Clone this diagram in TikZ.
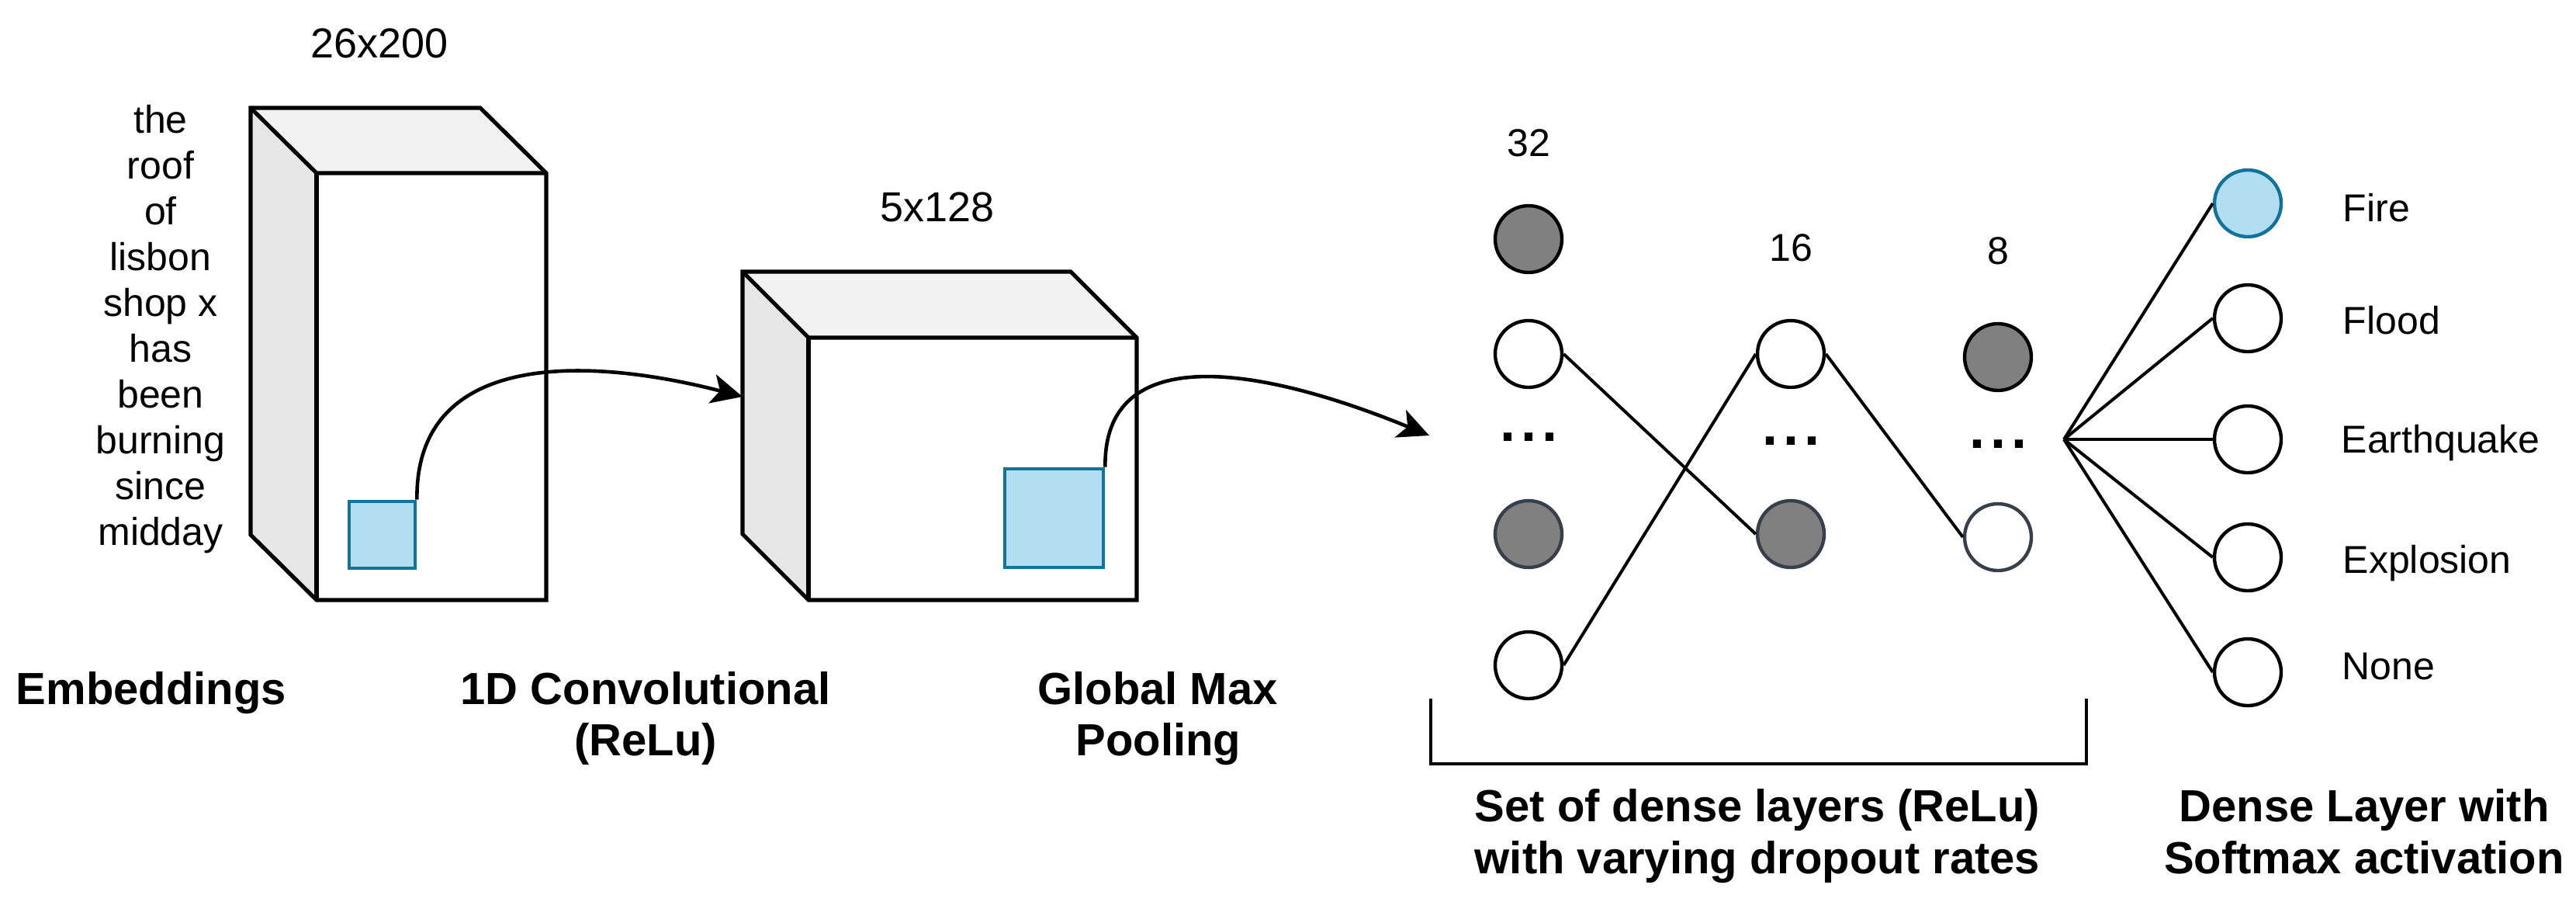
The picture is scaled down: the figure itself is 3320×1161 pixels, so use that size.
\documentclass[tikz,border=0pt]{standalone}
\usepackage{fontspec}
\setmainfont{Liberation Sans}
\usetikzlibrary{arrows.meta}
\definecolor{bluefill}{HTML}{B1DDF0}
\definecolor{bluedraw}{HTML}{10739E}
\definecolor{grayfill}{HTML}{808080}
\definecolor{slate}{HTML}{36404A}
\definecolor{sideface}{HTML}{E6E6E6}
\definecolor{topface}{HTML}{F2F2F2}
\begin{document}
\begin{tikzpicture}[x=0.25pt,y=-0.25pt,
  txt/.style={font=\fontsize{12.5}{15}\selectfont, inner sep=0, anchor=base},
  dimtxt/.style={font=\fontsize{13.5}{16}\selectfont, inner sep=0, anchor=base},
  lbl/.style={font=\fontsize{14.5}{17}\selectfont\bfseries, inner sep=0, anchor=base},
  dotstxt/.style={font=\fontsize{18}{18}\selectfont\bfseries, inner sep=0, anchor=base},
  cubeline/.style={line width=1.3pt, line join=miter},
  bluesq/.style={draw=bluedraw, fill=bluefill, line width=1.2pt, inner sep=0},
  neuron/.style={circle, draw, line width=1.1pt, minimum size=21.5pt, inner sep=0, fill=white},
  dropn/.style={neuron, fill=grayfill},
  dropns/.style={neuron, fill=grayfill, draw=slate},
  whites/.style={neuron, draw=slate},
  outn/.style={neuron},
  firen/.style={neuron, fill=bluefill, draw=bluedraw},
  conn/.style={line width=1pt},
  flow/.style={line width=1.15pt, -{Stealth[length=10pt,width=9.5pt,inset=2.5pt]}},
]
\useasboundingbox (0,0) rectangle (3320,1161);

% ---------- cube 1 (embeddings) ----------
\fill[sideface] (323,139) -- (408,223) -- (408,773) -- (323,689) -- cycle;
\fill[topface] (323,139) -- (619,139) -- (704,223) -- (408,223) -- cycle;
\draw[cubeline] (323,139) -- (619,139) -- (704,223) -- (704,773) -- (408,773) -- (323,689) -- cycle;
\draw[cubeline] (323,139) -- (408,223) -- (704,223);
\draw[cubeline] (408,223) -- (408,773);

% ---------- cube 2 (convolution) ----------
\fill[sideface] (957,350) -- (1042,435) -- (1042,773) -- (957,688) -- cycle;
\fill[topface] (957,350) -- (1380,350) -- (1465,435) -- (1042,435) -- cycle;
\draw[cubeline] (957,350) -- (1380,350) -- (1465,435) -- (1465,773) -- (1042,773) -- (957,688) -- cycle;
\draw[cubeline] (957,350) -- (1042,435) -- (1465,435);
\draw[cubeline] (1042,435) -- (1042,773);

% ---------- blue kernels ----------
\node[bluesq, minimum width=21.25pt, minimum height=21.5pt] (b1) at (492.5,689) {};
\node[bluesq, minimum width=31.75pt, minimum height=31.75pt] (b2) at (1358.5,667.5) {};

% ---------- dimension labels ----------
\node[dimtxt] (d1) at (489,74) {26x200};
\node[dimtxt] (d2) at (1208,285) {5x128};

% ---------- sentence ----------
\foreach \w [count=\i from 0] in {the,roof,of,lisbon,shop x,has,been,burning,since,midday}
  \node[txt, name=w\i] at (207,{171+59.1*\i}) {\w};

% ---------- flow arrows ----------
\coordinate (a1end) at (957,511);
\coordinate (a2end) at (1842,561);
\draw[flow] (b1.north east) .. controls (535,450) and (760,460) .. (a1end);
\draw[flow] (b2.north east) .. controls (1422,440) and (1620,470) .. (a2end);

% ---------- dense layers ----------
\node[txt] (n32) at (1970,201) {32};
\node[txt] (n16) at (2308,336) {16};
\node[txt] (n8) at (2575,340) {8};

\node[dropn] (n11) at (1970,308) {};
\node[neuron] (n12) at (1970,456) {};
\node[dotstxt] (n1d) at (1970,568) {.\kern1.75pt.\kern1.75pt.};
\node[dropns] (n13) at (1970,688) {};
\node[neuron] (n14) at (1970,857) {};

\node[neuron] (n21) at (2308,456) {};
\node[dotstxt] (n2d) at (2308,573) {.\kern1.75pt.\kern1.75pt.};
\node[dropns] (n22) at (2308,688) {};

\node[dropn] (n31) at (2575,460) {};
\node[dotstxt] (n3d) at (2575,577) {.\kern1.75pt.\kern1.75pt.};
\node[whites] (n32c) at (2575,692) {};

\draw[conn] (n12.east) -- (n22.west);
\draw[conn] (n14.east) -- (n21.west);
\draw[conn] (n21.east) -- (n32c.west);

% ---------- output layer ----------
\coordinate (fan) at (2660,566);
\node[firen] (o1) at (2897,262) {};
\node[outn] (o2) at (2897,410) {};
\node[outn] (o3) at (2897,566) {};
\node[outn] (o4) at (2897,718) {};
\node[outn] (o5) at (2897,866) {};
\foreach \k in {1,...,5} \draw[conn] (fan) -- (o\k.west);

\node[txt, anchor=base west] (l1) at (3019,285) {Fire};
\node[txt, anchor=base west] (l2) at (3019,430) {Flood};
\node[txt, anchor=base west] (l3) at (3017,583) {Earthquake};
\node[txt, anchor=base west] (l4) at (3019,738) {Explosion};
\node[txt, anchor=base west] (l5) at (3018,875) {None};

% ---------- bracket ----------
\coordinate (bk1) at (1844,900);
\coordinate (bk2) at (1844,984);
\coordinate (bk3) at (2689,984);
\coordinate (bk4) at (2689,900);
\draw[line width=1pt] (bk1) -- (bk2) -- (bk3) -- (bk4);

% ---------- bold captions ----------
\node[lbl] (c1) at (195,907) {Embeddings};
\node[lbl] (c2a) at (832,907) {1D Convolutional};
\node[lbl] (c2b) at (832,973) {(ReLu)};
\node[lbl] (c3a) at (1492,907) {Global Max};
\node[lbl] (c3b) at (1493,973) {Pooling};
\node[lbl] (c4a) at (2265,1058) {Set of dense layers (ReLu)};
\node[lbl] (c4b) at (2265,1125) {with varying dropout rates};
\node[lbl] (c5a) at (3047,1058) {Dense Layer with};
\node[lbl] (c5b) at (3047,1125) {Softmax activation};
\end{tikzpicture}
\end{document}
